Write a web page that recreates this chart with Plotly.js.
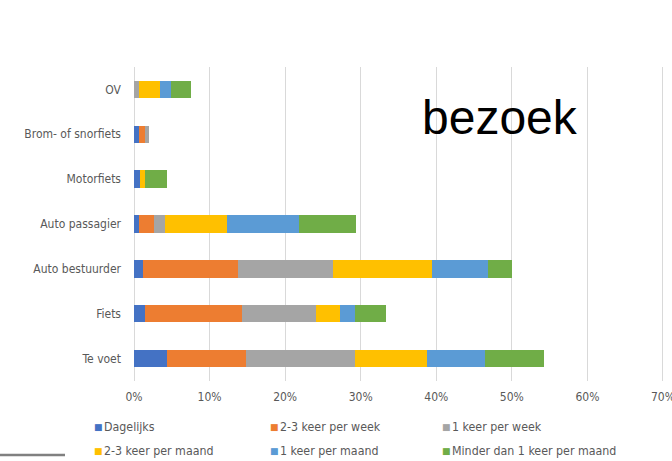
<!DOCTYPE html>
<html>
<head>
<meta charset="utf-8">
<script src="https://cdn.plot.ly/plotly-3.0.1.min.js"></script>
<style>html,body{margin:0;padding:0;background:#fff;}#chart{width:672px;height:461px;}</style>
</head>
<body>
<div id="chart"></div>
<script>
// Categories, bottom to top
const categories = ['Te voet', 'Fiets', 'Auto bestuurder', 'Auto passagier', 'Motorfiets', 'Brom- of snorfiets', 'OV'];
const seriesNames = ['Dagelijks', '2-3 keer per week', '1 keer per week', '2-3 keer per maand', '1 keer per maand', 'Minder dan 1 keer per maand'];
// Values in percent
const dagelijks      = [4.4, 1.5, 1.25, 0.6, 0.75, 0.6, 0];
const keer23Week     = [10.4, 12.8, 12.45, 2.1, 0, 0.8, 0];
const keer1Week      = [14.4, 9.8, 12.6, 1.4, 0, 0.6, 0.6];
const keer23Maand    = [9.6, 3.1, 13.2, 8.2, 0.65, 0, 2.8];
const keer1Maand     = [7.6, 2.0, 7.3, 9.5, 0, 0, 1.5];
const minderDan1     = [7.9, 4.1, 3.2, 7.6, 3.0, 0, 2.6];
const tickVals = [0, 10, 20, 30, 40, 50, 60, 70];
const tickText = ['0%', '10%', '20%', '30%', '40%', '50%', '60%', '70%'];
const chartLabel = 'bezoek';

const seriesValues = [dagelijks, keer23Week, keer1Week, keer23Maand, keer1Maand, minderDan1];
const colors = ['#4472C4', '#ED7D31', '#A5A5A5', '#FFC000', '#5B9BD5', '#70AD47'];
const font = 'Liberation Sans Narrow, DejaVu Sans Condensed, Arial Narrow, sans-serif';

const traces = seriesValues.map((vals, i) => ({
  type: 'bar',
  orientation: 'h',
  name: seriesNames[i],
  y: categories,
  x: vals,
  marker: {color: colors[i]},
  showlegend: false,
  hoverinfo: 'x+y+name'
}));

// plot area in pixels (70% sits at x=663)
const L = 134, X70 = 663, T = 67, B = 381;
const xMax = 70.4;
const R = L + (X70 - L) * xMax / 70;
const px = v => (v - L) / (R - L);
const py = v => (B - v) / (B - T);

const annotations = [{
  text: chartLabel, xref: 'paper', yref: 'paper', x: px(500), y: py(118),
  xanchor: 'center', yanchor: 'middle', showarrow: false,
  font: {family: 'Liberation Sans, Arial, sans-serif', size: 48, color: '#000'}
}];
const legX = [97, 273, 445];
const legY = [427, 451];
seriesNames.forEach((n, i) => {
  const cx = legX[i % 3], cy = legY[Math.floor(i / 3)];
  annotations.push({
    text: '■', xref: 'paper', yref: 'paper', x: px(cx - 5), y: py(cy),
    xanchor: 'left', yanchor: 'middle', showarrow: false,
    font: {family: 'DejaVu Sans, sans-serif', size: 9, color: colors[i]}
  });
  annotations.push({
    text: n, xref: 'paper', yref: 'paper', x: px(cx + 5), y: py(cy),
    xanchor: 'left', yanchor: 'middle', showarrow: false,
    font: {family: font, size: 12.3, color: '#595959'}
  });
});

const layout = {
  width: 672, height: 461,
  margin: {l: L, r: 672 - R, t: T, b: 461 - B, pad: 0},
  paper_bgcolor: '#fff', plot_bgcolor: '#fff',
  barmode: 'stack',
  bargap: 0.61,
  showlegend: false,
  xaxis: {
    range: [0, xMax], tickvals: tickVals, ticktext: tickText,
    showgrid: true, gridcolor: '#D9D9D9', gridwidth: 1,
    zeroline: true, zerolinecolor: '#D9D9D9', zerolinewidth: 1,
    showline: false, ticks: '', ticklen: 0,
    ticklabelstandoff: 7,
    ticklabeloverflow: 'allow',
    tickfont: {family: font, size: 12, color: '#595959'},
    fixedrange: true
  },
  yaxis: {
    showgrid: false, zeroline: false, showline: false, ticks: '',
    ticklabelstandoff: 12,
    tickfont: {family: font, size: 12, color: '#595959'},
    fixedrange: true
  },
  annotations: annotations,
  shapes: [{
    type: 'line', xref: 'paper', yref: 'paper',
    x0: px(0), x1: px(65), y0: py(455), y1: py(455),
    line: {color: '#808080', width: 2.5}
  }]
};

Plotly.newPlot('chart', traces, layout, {displayModeBar: false, staticPlot: true});
</script>
</body>
</html>
